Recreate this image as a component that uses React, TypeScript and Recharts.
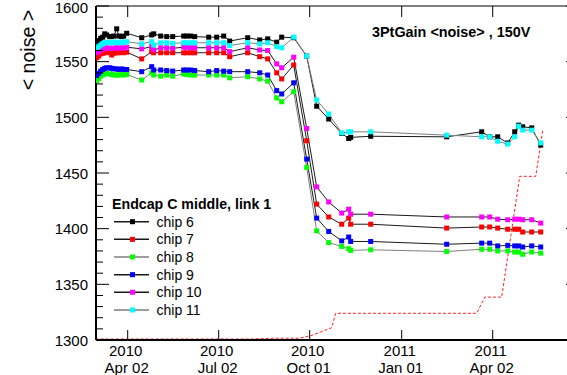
import { LineChart, Line, XAxis, YAxis, ReferenceArea } from "recharts";

// measurement dates (shared by all chips)
const dates = [
  "2010-03-02", "2010-03-04", "2010-03-06", "2010-03-08", "2010-03-10", "2010-03-12", "2010-03-15",
  "2010-03-17", "2010-03-19", "2010-03-22", "2010-03-24", "2010-03-27", "2010-03-29", "2010-04-01",
  "2010-04-16", "2010-04-26", "2010-04-28", "2010-05-05", "2010-05-11", "2010-05-17", "2010-05-28",
  "2010-05-31", "2010-06-04", "2010-06-08",
  "2010-06-22", "2010-06-30", "2010-07-07", "2010-07-13", "2010-07-31", "2010-08-12", "2010-08-20",
  "2010-08-29", "2010-09-03", "2010-09-15",
  "2010-09-28", "2010-10-08", "2010-10-20", "2010-11-02", "2010-11-09", "2010-11-11", "2010-12-01",
  "2011-02-15", "2011-03-22", "2011-03-30", "2011-04-07", "2011-04-17", "2011-04-24", "2011-04-28",
  "2011-05-02", "2011-05-11", "2011-05-20",
];

const chip6 = [
  1567.5, 1569, 1571, 1572, 1575, 1574, 1572.5, 1572.5, 1573, 1579.5, 1573, 1572.5, 1573, 1575.5,
  1571.5, 1574, 1575, 1573, 1572.5, 1572.5, 1573, 1573, 1573, 1572.5,
  1572, 1572, 1573, 1568.5, 1571.5, 1569.5, 1570.5, 1567.5, 1572, 1571.5,
  1555, 1510, 1498.5, 1485.5, 1481, 1482, 1483,
  1482.5, 1487, 1482.5, 1482.5, 1477, 1487, 1493, 1491.5, 1490.5, 1475,
];
const chip7 = [
  1553.5, 1555, 1557, 1557.5, 1558, 1558.5, 1558, 1556, 1557.5, 1558, 1558, 1558.5, 1558, 1558.5,
  1552.5, 1559, 1558, 1558, 1558, 1558, 1558, 1558, 1558, 1558,
  1558, 1558, 1558, 1554.5, 1558, 1554.5, 1552.5, 1540, 1534.5, 1547,
  1479, 1422, 1410.5, 1404, 1409.5, 1404, 1404,
  1400.5, 1401.5, 1401.5, 1400.5, 1399.5, 1399.5, 1399.5, 1397, 1397, 1397,
];
const chip8 = [
  1533, 1535, 1537, 1538, 1539, 1539.5, 1539, 1538.5, 1538, 1538, 1538, 1538.5, 1538, 1538.5,
  1533.5, 1540, 1538, 1537, 1538, 1537, 1539, 1538.5, 1538, 1538,
  1538, 1538, 1538, 1535.5, 1536.5, 1534.5, 1532.5, 1517.5, 1514, 1523,
  1455, 1398, 1387.5, 1384, 1382, 1380.5, 1381,
  1379.5, 1381.5, 1381.5, 1380, 1380, 1379, 1379, 1377, 1379, 1378,
];
const chip9 = [
  1537.5, 1539.5, 1541.5, 1543, 1544, 1544.5, 1544.5, 1544, 1543.5, 1543.5, 1543, 1543.5, 1543, 1543,
  1541, 1545.5, 1542.5, 1542.5, 1542, 1541.5, 1542.5, 1542.5, 1542.5, 1542,
  1541, 1542, 1541.5, 1541, 1541, 1540, 1538, 1524, 1521, 1531,
  1462.5, 1409.5, 1397.5, 1389, 1392.5, 1388.5, 1388.5,
  1386, 1387, 1387, 1384.5, 1385, 1384.5, 1384.5, 1383.5, 1384.5, 1383.5,
];
const chip10 = [
  1558, 1559, 1560.5, 1561.5, 1562, 1562.5, 1562, 1562, 1562, 1562.5, 1562, 1562.5, 1562, 1563,
  1561.5, 1563.5, 1560.5, 1562.5, 1562.5, 1562, 1563, 1563, 1562.5, 1562.5,
  1562.5, 1562.5, 1562.5, 1559, 1562.5, 1560.5, 1560, 1548, 1544.5, 1554,
  1490, 1437.5, 1424, 1414, 1417.5, 1413, 1413,
  1410.5, 1410.5, 1410.5, 1408.5, 1408, 1408.5, 1408.5, 1408, 1408, 1405,
];
const chip11 = [
  1562, 1563.5, 1565, 1566, 1567, 1567.5, 1567, 1567, 1567.5, 1567.5, 1567, 1567.5, 1567, 1568,
  1566, 1568, 1565, 1567, 1567, 1566.5, 1567, 1567, 1567, 1567,
  1567, 1567, 1567, 1564.5, 1567, 1566, 1567, 1563.5, 1562.5, 1572,
  1555, 1515.5, 1503, 1486, 1487, 1487, 1487,
  1484, 1482.5, 1482.5, 1478.5, 1476, 1482.5, 1492, 1488.5, 1488.5, 1477,
];

// red dashed reference curve
const refDates = [
  "2010-03-01", "2010-08-04", "2010-08-26", "2010-09-20", "2010-10-02", "2010-10-23", "2010-10-27",
  "2011-03-17", "2011-03-25", "2011-04-11", "2011-04-29", "2011-05-15", "2011-05-22",
];
const refValues = [1300.9, 1300.9, 1301.6, 1301.6, 1303.8, 1311, 1324, 1324, 1338.5, 1338.5, 1447, 1447, 1488.5];

const tickDates = ["2010-04-02", "2010-07-02", "2010-10-01", "2011-01-01", "2011-04-02"];
const tickYears = ["2010", "2010", "2010", "2011", "2011"];
const tickDays = ["Apr 02", "Jul 02", "Oct 01", "Jan 01", "Apr 02"];

const chips = [
  { name: "chip 6", marker: "#000000", line: "#1a1a1a", values: chip6 },
  { name: "chip 7", marker: "#ff0000", line: "#1a1a1a", values: chip7 },
  { name: "chip 8", marker: "#00ff00", line: "#7f7f7f", values: chip8 },
  { name: "chip 9", marker: "#0000ff", line: "#1a1a1a", values: chip9 },
  { name: "chip 10", marker: "#ff00ff", line: "#1a1a1a", values: chip10 },
  { name: "chip 11", marker: "#00ffff", line: "#7f7f7f", values: chip11 },
];

const toTime = (d: string) => Date.parse(d + "T00:00:00Z");

const X_DOMAIN: [number, number] = [
  Date.parse("2010-03-01T07:12:00Z"),
  Date.parse("2011-06-27T07:12:00Z"),
];
const tickTimes = tickDates.map(toTime);
const yTicks: number[] = [];
for (let v = 1300; v <= 1600; v += 10) yTicks.push(v);

const PLOT_TOP = 6;
const PLOT_RIGHT = 579;
const FONT = '"Liberation Sans", Arial, Helvetica, sans-serif';

const seriesData = chips.map((c) =>
  dates.map((d, i) => ({ t: toTime(d), v: c.values[i] }))
);
const refData = refDates.map((d, i) => ({ t: toTime(d), v: refValues[i] }));

function YTick(props: any) {
  const { x, y, payload } = props;
  const v = payload.value as number;
  const major = v % 50 === 0;
  const len = major ? 13 : 7;
  // keep the top label inside the canvas
  const baseline = Math.max(y + 5.5, 13);
  return (
    <g>
      <line x1={x} x2={x + len} y1={y} y2={y} stroke="#000" />
      <line x1={PLOT_RIGHT - len} x2={PLOT_RIGHT} y1={y} y2={y} stroke="#000" />
      {major && (
        <text x={x - 8} y={baseline} textAnchor="end" fontSize={15} fill="#000">
          {v}
        </text>
      )}
    </g>
  );
}

function XTick(props: any) {
  const { x, y, payload } = props;
  const i = tickTimes.indexOf(payload.value);
  return (
    <g>
      <line x1={x} x2={x} y1={y} y2={y - 10} stroke="#000" />
      <line x1={x} x2={x} y1={PLOT_TOP} y2={PLOT_TOP + 11} stroke="#000" />
      <text x={x - 2} y={y + 16} textAnchor="middle" fontSize={15} fill="#000">
        {tickYears[i]}
      </text>
      <text x={x - 1} y={y + 32.5} textAnchor="middle" fontSize={15} fill="#000">
        {tickDays[i]}
      </text>
    </g>
  );
}

const squareDot = (color: string, size: number) => (props: any) => {
  const { cx, cy, index } = props;
  if (cx == null || cy == null) return <g key={index} />;
  return (
    <rect
      key={index}
      x={cx - size / 2}
      y={cy - size / 2}
      width={size}
      height={size}
      fill={color}
    />
  );
};

export default function App() {
  const legendTop = 221.7;
  const rowStep = 17.65;
  return (
    <div
      style={{
        position: "relative",
        width: 567,
        height: 375,
        overflow: "hidden",
        background: "#fff",
        fontFamily: FONT,
      }}
    >
      <style>{"body{margin:0}"}</style>
      <LineChart
        width={589}
        height={375}
        margin={{ top: PLOT_TOP, right: 10, bottom: 0, left: 0 }}
      >
        <XAxis
          type="number"
          dataKey="t"
          domain={X_DOMAIN}
          allowDataOverflow
          ticks={tickTimes}
          interval={0}
          height={35}
          tickSize={0}
          tickMargin={0}
          tickLine={false}
          axisLine={{ stroke: "#000", strokeWidth: 2 }}
          tick={<XTick />}
        />
        <YAxis
          type="number"
          domain={[1300, 1600]}
          allowDataOverflow
          ticks={yTicks}
          interval={0}
          width={96}
          tickSize={0}
          tickMargin={0}
          tickLine={false}
          axisLine={{ stroke: "#000", strokeWidth: 2 }}
          tick={<YTick />}
        />
        <ReferenceArea
          x1={X_DOMAIN[0]}
          x2={X_DOMAIN[1]}
          y1={1300}
          y2={1600}
          fill="none"
          stroke="#000"
          strokeWidth={1}
        />
        <Line
          data={refData}
          dataKey="v"
          stroke="#ff2020"
          strokeWidth={1}
          strokeDasharray="3 2"
          dot={false}
          isAnimationActive={false}
        />
        {chips.map((c, k) => (
          <Line
            key={c.name}
            name={c.name}
            data={seriesData[k]}
            dataKey="v"
            stroke={c.line}
            strokeWidth={1}
            dot={squareDot(c.marker, 5)}
            activeDot={false}
            isAnimationActive={false}
          />
        ))}
      </LineChart>
      <svg
        width={567}
        height={375}
        style={{ position: "absolute", left: 0, top: 0, pointerEvents: "none" }}
      >
        <text
          transform="translate(35,50) rotate(-90)"
          textAnchor="middle"
          fontSize={19.6}
          fill="#000"
        >
          {"< noise >"}
        </text>
        <text x={372} y={37} fontSize={14.4} fontWeight="bold" fill="#000">
          {"3PtGain <noise> , 150V"}
        </text>
        <text x={112} y={208.5} fontSize={14.2} fontWeight="bold" fill="#000">
          Endcap C middle, link 1
        </text>
        {chips.map((c, i) => {
          const cy = legendTop + i * rowStep;
          return (
            <g key={c.name}>
              <line x1={114} x2={149} y1={cy} y2={cy} stroke={c.line} strokeWidth={1.5} />
              <rect x={130} y={cy - 2.5} width={5} height={5} fill={c.marker} />
              <text x={156.5} y={cy + 5} fontSize={14} fill="#000">
                {c.name}
              </text>
            </g>
          );
        })}
      </svg>
    </div>
  );
}
